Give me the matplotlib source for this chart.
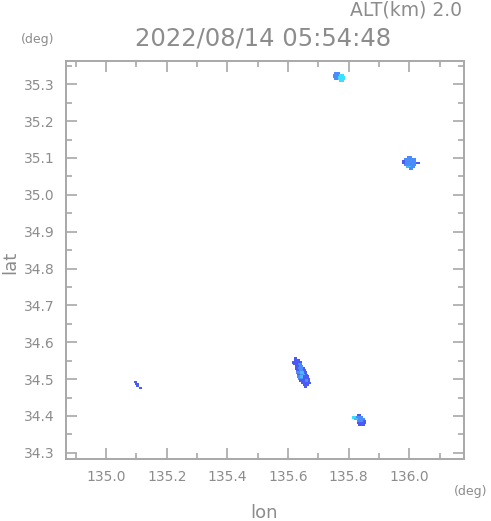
import matplotlib
matplotlib.use("Agg")
import matplotlib.pyplot as plt
from matplotlib.ticker import MultipleLocator, FormatStrFormatter

# ---- data: echo cells as row runs (lat, lon_start, lon_end, level) ----
levels_colors = ["#4a5af4", "#4a8cfa", "#46b8ff", "#3ce0ff"]

blob_top_lat = [35.329, 35.324, 35.324, 35.319, 35.319, 35.314, 35.314, 35.309]
blob_top_lon0 = [135.752, 135.749, 135.768, 135.749, 135.766, 135.753, 135.766, 135.768]
blob_top_lon1 = [135.772, 135.768, 135.786, 135.766, 135.789, 135.766, 135.787, 135.784]
blob_top_lev = [1, 1, 3, 1, 3, 1, 3, 3]

blob_ne_lat = [35.101, 35.096, 35.091, 35.091, 35.086, 35.086, 35.086, 35.081, 35.076, 35.076, 35.071]
blob_ne_lon0 = [135.992, 135.983, 135.975, 135.984, 135.975, 135.986, 136.022, 135.981, 135.989, 136.006, 136.000]
blob_ne_lon1 = [136.010, 136.021, 135.984, 136.023, 135.986, 136.022, 136.034, 136.023, 136.006, 136.020, 136.012]
blob_ne_lev = [1, 1, 0, 1, 0, 1, 0, 1, 2, 1, 1]

blob_main_lat = [34.557, 34.551, 34.545, 34.540, 34.540, 34.534, 34.534,
                 34.529, 34.529, 34.529, 34.523, 34.523, 34.523,
                 34.518, 34.518, 34.518, 34.512, 34.512, 34.512, 34.512,
                 34.507, 34.507, 34.507, 34.501, 34.501,
                 34.496, 34.496, 34.496, 34.490, 34.485, 34.479]
blob_main_lon0 = [135.621, 135.620, 135.613, 135.617, 135.632, 135.622, 135.636,
                  135.622, 135.634, 135.648, 135.625, 135.637, 135.650,
                  135.626, 135.640, 135.652, 135.628, 135.638, 135.650, 135.656,
                  135.629, 135.640, 135.648, 135.633, 135.650,
                  135.636, 135.656, 135.665, 135.643, 135.648, 135.651]
blob_main_lon1 = [135.631, 135.639, 135.645, 135.632, 135.645, 135.636, 135.649,
                  135.634, 135.648, 135.655, 135.637, 135.650, 135.659,
                  135.640, 135.652, 135.662, 135.638, 135.650, 135.656, 135.666,
                  135.640, 135.648, 135.669, 135.650, 135.671,
                  135.656, 135.665, 135.673, 135.675, 135.669, 135.664]
blob_main_lev = [0, 0, 0, 0, 1, 0, 1,
                 0, 1, 0, 0, 1, 0,
                 1, 2, 0, 0, 1, 2, 0,
                 1, 2, 0, 1, 0,
                 0, 1, 0, 0, 0, 0]

blob_se_lat = [34.401, 34.396, 34.396, 34.391, 34.391, 34.386, 34.386, 34.381, 34.376]
blob_se_lon0 = [135.828, 135.812, 135.825, 135.818, 135.829, 135.826, 135.846, 135.828, 135.832]
blob_se_lon1 = [135.842, 135.825, 135.848, 135.829, 135.852, 135.846, 135.858, 135.856, 135.854]
blob_se_lev = [0, 3, 1, 2, 1, 1, 0, 0, 0]

blob_w_lat = [34.492, 34.487, 34.482, 34.476]
blob_w_lon0 = [135.091, 135.096, 135.100, 135.107]
blob_w_lon1 = [135.103, 135.108, 135.107, 135.117]
blob_w_lev = [0, 0, 0, 0]

title = "2022/08/14 05:54:48"
alt_label = "ALT(km) 2.0"
xticks = [135.0, 135.2, 135.4, 135.6, 135.8, 136.0]
yticks = [34.3, 34.4, 34.5, 34.6, 34.7, 34.8, 34.9, 35.0, 35.1, 35.2, 35.3]

# ---- figure ----
W, H = 491, 521
fig = plt.figure(figsize=(W / 100, H / 100), dpi=100)
ax = fig.add_axes([66 / W, 1 - 458.7 / H, (463.7 - 66) / W, (458.7 - 61) / H])

gray = "#8c8c8c"
spine_gray = "#a8a8a8"

cell_h = 0.0062
for lats, l0s, l1s, levs in [
    (blob_top_lat, blob_top_lon0, blob_top_lon1, blob_top_lev),
    (blob_ne_lat, blob_ne_lon0, blob_ne_lon1, blob_ne_lev),
    (blob_main_lat, blob_main_lon0, blob_main_lon1, blob_main_lev),
    (blob_se_lat, blob_se_lon0, blob_se_lon1, blob_se_lev),
    (blob_w_lat, blob_w_lon0, blob_w_lon1, blob_w_lev),
]:
    widths = [b - a for a, b in zip(l0s, l1s)]
    cols = [levels_colors[v] for v in levs]
    ax.barh(lats, widths, left=l0s, height=cell_h, color=cols,
            linewidth=0, align="center")

ax.set_xlim(134.868, 136.179)
ax.set_ylim(34.284, 35.363)
ax.set_xticks(xticks)
ax.set_yticks(yticks)
ax.xaxis.set_minor_locator(MultipleLocator(0.1))
ax.yaxis.set_minor_locator(MultipleLocator(0.05))
ax.xaxis.set_major_formatter(FormatStrFormatter("%.1f"))
ax.yaxis.set_major_formatter(FormatStrFormatter("%.1f"))

ax.tick_params(which="both", direction="in", top=True, right=True,
               color=spine_gray, labelcolor=gray, labelsize=10, width=1.2)
ax.tick_params(which="major", length=8, pad=8)
ax.tick_params(which="minor", length=4)
for s in ax.spines.values():
    s.set_color(spine_gray)
    s.set_linewidth(1.4)

fig.text(263 / W, 1 - 39 / H, title, fontsize=17.5, color=gray,
         ha="center", va="center")
fig.text(462 / W, 1 - 10 / H, alt_label, fontsize=13.5, color=gray,
         ha="right", va="center")
fig.text(38 / W, 1 - 40 / H, "(deg)", fontsize=9, color=gray,
         ha="center", va="center")
fig.text(471 / W, 1 - 492 / H, "(deg)", fontsize=9, color=gray,
         ha="center", va="center")
fig.text(264 / W, 1 - 513 / H, "lon", fontsize=13, color=gray,
         ha="center", va="center")
fig.text(10 / W, 1 - 262 / H, "lat", fontsize=13, color=gray,
         ha="center", va="center", rotation=90)

fig.savefig("out.png", dpi=100)
